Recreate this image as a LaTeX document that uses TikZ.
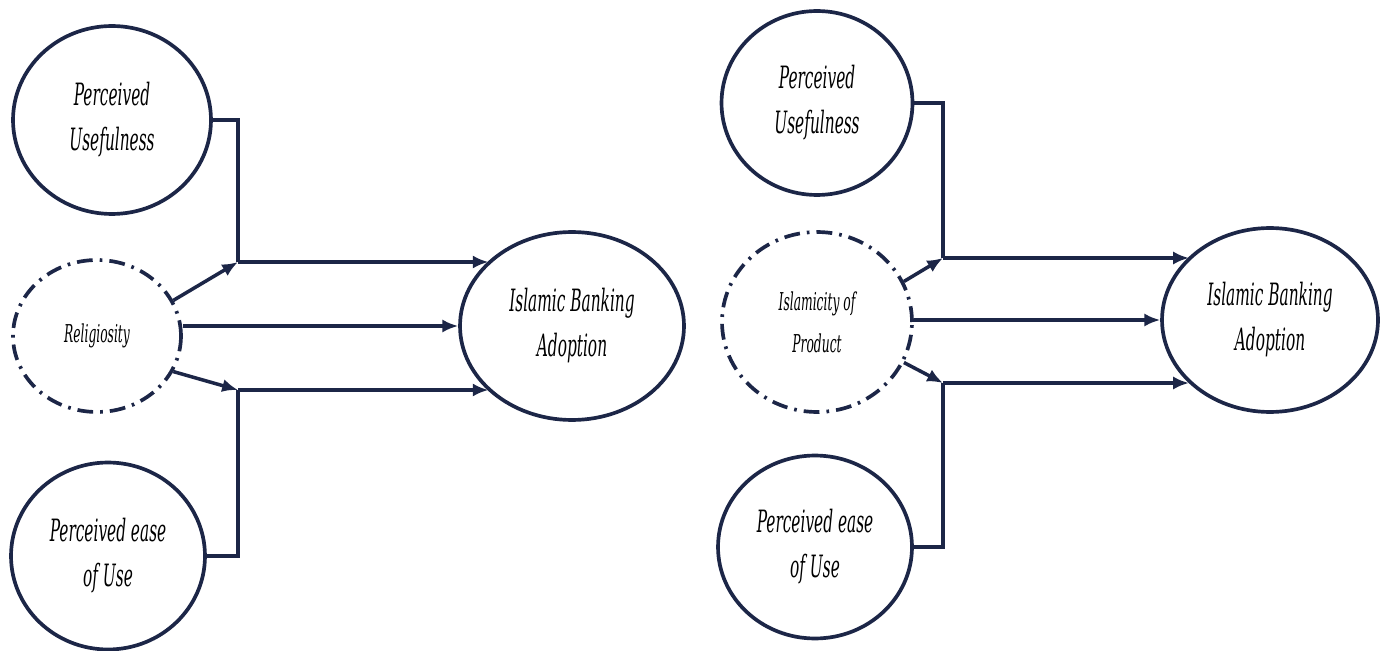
\documentclass[tikz,border=0pt]{standalone}
\usepackage{fontspec}
\setmainfont{DejaVu Serif}
\usetikzlibrary{shapes.geometric, arrows.meta}

\definecolor{navy}{HTML}{1C2647}
\newcommand{\nar}[1]{\scalebox{0.5}[1]{#1}}

\tikzset{
  construct/.style={ellipse, draw=navy, line width=2.1pt, fill=white, inner sep=0pt,
    align=center, font=\fontsize{17.5}{25.6}\selectfont\itshape},
  moderator/.style={construct, dash pattern=on 9pt off 4pt on 1.5pt off 4pt,
    font=\fontsize{14}{24}\selectfont\itshape},
  link/.style={draw=navy, line width=2pt},
  flow/.style={draw=navy, line width=2.8pt, -{Latex[length=9pt,width=7.5pt]}},
  diag/.style={draw=navy, line width=2pt, -{Latex[length=9pt,width=7.5pt]}}
}

\begin{document}
\begin{tikzpicture}[x=0.02cm, y=-0.02cm]
  \useasboundingbox[fill=white] (0,0) rectangle (1381,651);

  % religiosity model
  \node[construct, minimum width=3.96cm, minimum height=3.76cm] (pu1) at (112,120)
    {\nar{Perceived}\\\nar{Usefulness}};
  \node[moderator, minimum width=3.36cm, minimum height=3.04cm] (rel1) at (97,336)
    {\nar{Religiosity}};
  \node[construct, minimum width=3.88cm, minimum height=3.74cm] (peou1) at (108,556)
    {\nar{Perceived ease}\\\nar{of Use}};
  \node[construct, minimum width=4.48cm, minimum height=3.76cm] (iba1) at (572,326)
    {\nar{Islamic Banking}\\\nar{Adoption}};

  \coordinate (jt1) at (238,262);
  \coordinate (jb1) at (238,390);

  \draw[link] (pu1.east) -| (jt1);
  \draw[link] (peou1.east) -| (jb1);
  \draw[diag] (rel1.25) -- (jt1);
  \draw[diag] (rel1.335) -- (jb1);
  \draw[flow] (jt1) -- (jt1 -| iba1.142);
  \draw[flow] (rel1.east |- iba1.west) -- (iba1.west);
  \draw[flow] (jb1) -- (jb1 -| iba1.218);

  % islamicity model
  \node[construct, minimum width=3.82cm, minimum height=3.68cm] (pu2) at (817,103)
    {\nar{Perceived}\\\nar{Usefulness}};
  \node[moderator, minimum width=3.80cm, minimum height=3.60cm] (rel2) at (817,322)
    {\nar{Islamicity of}\\\nar{Product}};
  \node[construct, minimum width=3.88cm, minimum height=3.66cm] (peou2) at (815,547)
    {\nar{Perceived ease}\\\nar{of Use}};
  \node[construct, minimum width=4.32cm, minimum height=3.68cm] (iba2) at (1270,320)
    {\nar{Islamic Banking}\\\nar{Adoption}};

  \coordinate (jt2) at (943,258);
  \coordinate (jb2) at (943,383);

  \draw[link] (pu2.east) -| (jt2);
  \draw[link] (peou2.east) -| (jb2);
  \draw[diag] (rel2.25) -- (jt2);
  \draw[diag] (rel2.335) -- (jb2);
  \draw[flow] (jt2) -- (jt2 -| iba2.142);
  \draw[flow] (rel2.east |- iba2.west) -- (iba2.west);
  \draw[flow] (jb2) -- (jb2 -| iba2.218);
\end{tikzpicture}
\end{document}
